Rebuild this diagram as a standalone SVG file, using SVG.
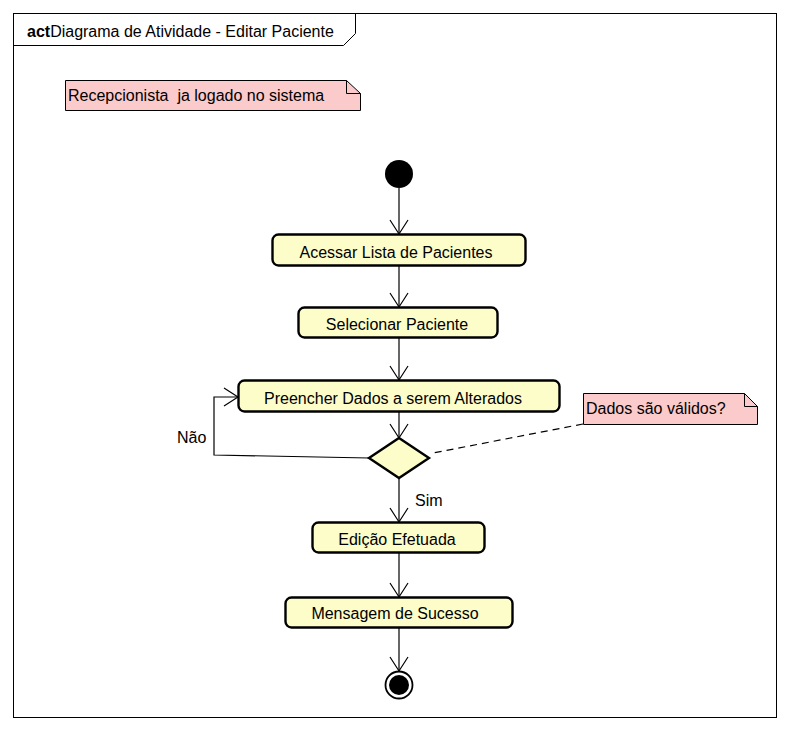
<svg xmlns="http://www.w3.org/2000/svg" width="790" height="732" viewBox="0 0 790 732">
  <defs>
    <marker id="open" viewBox="0 0 20 20" refX="15" refY="10" markerWidth="20" markerHeight="20" markerUnits="userSpaceOnUse" orient="auto">
      <path d="M1,1 L15,10 L1,19" fill="none" stroke="#000" stroke-width="1.2"/>
    </marker>
  </defs>
  <style>
    text { font-family: "Liberation Sans", Arial, sans-serif; font-size: 16px; fill: #000; white-space: pre; }
    .act { fill: #fdfdca; stroke: #000; stroke-width: 2.4; }
    .note { fill: #fbcaca; stroke: #000; stroke-width: 1; }
    .fold { fill: none; stroke: #000; stroke-width: 1; }
    .flow { fill: none; stroke: #000; stroke-width: 1.2; marker-end: url(#open); }
    .line { fill: none; stroke: #000; stroke-width: 1.2; }
    .mid { text-anchor: middle; }
  </style>
  <rect width="790" height="732" fill="#fff"/>

  <!-- frame -->
  <g id="frame">
    <rect x="13.5" y="13.5" width="763" height="704" fill="none" stroke="#000" stroke-width="1"/>
    <path d="M13.5,45.5 H343.5 L355.5,33.5 V13.5" fill="none" stroke="#000" stroke-width="1"/>
    <text x="27" y="37"><tspan font-weight="bold">act</tspan><tspan>Diagrama de Atividade - Editar Paciente</tspan></text>
  </g>

  <!-- notes -->
  <g id="note-login">
    <path class="note" d="M65.5,80.5 H346.5 L360.5,93.5 V110.5 H65.5 Z"/>
    <path class="fold" d="M346.5,80.5 V93.5 H360.5"/>
    <text x="68" y="101" xml:space="preserve">Recepcionista  ja logado no sistema</text>
  </g>
  <g id="note-valid">
    <path class="note" d="M583.5,393.5 H744.5 L757.5,406.5 V424.5 H583.5 Z"/>
    <path class="fold" d="M744.5,393.5 V406.5 H757.5"/>
    <text x="586" y="414">Dados são válidos?</text>
  </g>

  <!-- connectors -->
  <g id="connectors">
    <path class="flow" d="M399,188 V234"/>
    <path class="flow" d="M399,266 V307"/>
    <path class="flow" d="M399,338 V380"/>
    <path class="flow" d="M399,412 V438"/>
    <path class="flow" d="M369,458 L214,455 V397 H238"/>
    <path class="flow" d="M399,478 V522"/>
    <path class="flow" d="M399,553 V597"/>
    <path class="flow" d="M399,628 V671"/>
    <path class="line" d="M583,424 L433,453" stroke-dasharray="7,5"/>
    <text x="177" y="443">Não</text>
    <text x="415" y="506">Sim</text>
  </g>

  <!-- nodes -->
  <g id="initial">
    <circle cx="399" cy="174" r="14" fill="#000"/>
  </g>
  <g id="acessar-lista">
    <rect class="act" x="272.5" y="234.5" width="253" height="31" rx="6"/>
    <text class="mid" x="396" y="258">Acessar Lista de Pacientes</text>
  </g>
  <g id="selecionar-paciente">
    <rect class="act" x="298.5" y="307.5" width="199" height="30" rx="6"/>
    <text class="mid" x="397" y="330">Selecionar Paciente</text>
  </g>
  <g id="preencher-dados">
    <rect class="act" x="238.5" y="380.5" width="321" height="31" rx="6"/>
    <text class="mid" x="393" y="404">Preencher Dados a serem Alterados</text>
  </g>
  <g id="decisao">
    <path class="act" d="M399,438 L429,458 L399,478 L369,458 Z"/>
  </g>
  <g id="edicao-efetuada">
    <rect class="act" x="312.5" y="522.5" width="172" height="30" rx="6"/>
    <text class="mid" x="397" y="545">Edição Efetuada</text>
  </g>
  <g id="mensagem-sucesso">
    <rect class="act" x="285.5" y="597.5" width="227" height="30" rx="6"/>
    <text class="mid" x="395" y="619">Mensagem de Sucesso</text>
  </g>
  <g id="final">
    <circle cx="399" cy="685" r="13.5" fill="#fff" stroke="#000" stroke-width="1.8"/>
    <circle cx="399" cy="685" r="10" fill="#000"/>
  </g>
</svg>
